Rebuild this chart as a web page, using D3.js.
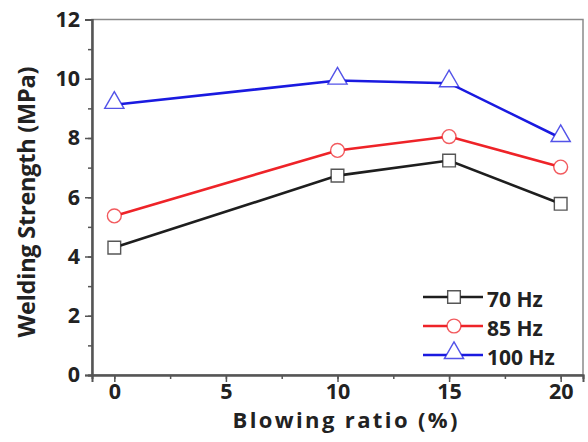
<!DOCTYPE html>
<html><head><meta charset="utf-8">
<script src="https://cdn.jsdelivr.net/npm/d3@7"></script>
<style>body{margin:0;background:#fff}svg{display:block}text{font-family:"Open Sans","DejaVu Sans",sans-serif;font-weight:700;fill:#222}</style>
</head><body>
<script>
const xValues = [0, 10, 15, 20];
const seriesNames = ["70 Hz", "85 Hz", "100 Hz"];
const values70 = [4.3, 6.73, 7.24, 5.78];
const values85 = [5.37, 7.58, 8.05, 7.02];
const values100 = [9.12, 9.94, 9.85, 8.0];
const xTicks = [0, 5, 10, 15, 20];
const yTicks = [0, 2, 4, 6, 8, 10, 12];
const colors = ["#1e1e1e", "#ee2328", "#1a1ae0"];
const symbols = [d3.symbolSquare, d3.symbolCircle, d3.symbolTriangle];
const symSizes = [160, 150, 160];

const W = 588, H = 442;
const m = {l: 92, r: 5, t: 19.5, b: 67};
const svg = d3.select("body").append("svg").attr("width", W).attr("height", H);
const x = d3.scaleLinear().domain([-1, 21]).range([m.l, W - m.r]);
const y = d3.scaleLinear().domain([0, 12]).range([H - m.b, m.t]);

// frame
svg.append("rect").attr("x", m.l).attr("y", m.t).attr("width", W - m.r - m.l).attr("height", H - m.b - m.t)
  .attr("fill", "none").attr("stroke", "#8a8a8a").attr("stroke-width", 1.5);

// ticks
const gx = svg.append("g").attr("transform", `translate(0,${H - m.b})`);
gx.call(d3.axisBottom(x).tickValues(d3.range(0, 21, 2.5)).tickSize(4).tickFormat(""));
const gx2 = svg.append("g").attr("transform", `translate(0,${H - m.b})`);
gx2.call(d3.axisBottom(x).tickValues(xTicks).tickSize(7).tickPadding(2).tickFormat(d3.format("d")));
const gy = svg.append("g").attr("transform", `translate(${m.l},0)`);
gy.call(d3.axisLeft(y).tickValues(d3.range(0, 12.1, 1)).tickSize(4).tickFormat(""));
const gy2 = svg.append("g").attr("transform", `translate(${m.l},0)`);
gy2.call(d3.axisLeft(y).tickValues(yTicks).tickSize(7).tickPadding(5).tickFormat(d3.format("d")));
svg.selectAll(".domain").attr("stroke", "#555").attr("stroke-width", 2);
svg.selectAll(".tick line").attr("stroke", "#555").attr("stroke-width", 1.5);
svg.selectAll(".tick text").attr("font-size", 21.5).attr("fill", "#222")
  .style("font-family", '"Open Sans","DejaVu Sans",sans-serif').style("font-weight", 700);

// axis titles
svg.append("text").attr("x", 345).attr("y", 428).attr("text-anchor", "middle")
  .attr("font-size", 22).attr("textLength", 225).attr("lengthAdjust", "spacing").text("Blowing ratio (%)");
svg.append("text").attr("transform", `translate(35,202) rotate(-90)`).attr("text-anchor", "middle")
  .attr("font-size", 23.5).attr("textLength", 271).attr("lengthAdjust", "spacing").text("Welding Strength (MPa)");

const data = [values70, values85, values100];
const line = d3.line().x((d, i) => x(xValues[i])).y(d => y(d));
data.forEach((vals, s) => {
  svg.append("path").datum(vals).attr("d", line).attr("fill", "none")
    .attr("stroke", colors[s]).attr("stroke-width", 2.6);
  svg.selectAll(null).data(vals).enter().append("path")
    .attr("transform", (d, i) => `translate(${x(xValues[i])},${y(d) + (s === 2 ? -2 : 0)})`)
    .attr("d", d3.symbol().type(symbols[s]).size(symSizes[s]))
    .attr("fill", "#fff").attr("stroke", colors[s]).attr("stroke-width", 1.4).attr("stroke-opacity", 0.75);
});

// legend
const lg = svg.append("g");
seriesNames.forEach((name, s) => {
  const yy = 297 + s * 29;
  lg.append("line").attr("x1", 423).attr("x2", 483).attr("y1", yy).attr("y2", yy)
    .attr("stroke", colors[s]).attr("stroke-width", 2.6);
  lg.append("path").attr("transform", `translate(454,${yy + (s === 2 ? -2 : 0)})`)
    .attr("d", d3.symbol().type(symbols[s]).size(symSizes[s]))
    .attr("fill", "#fff").attr("stroke", colors[s]).attr("stroke-width", 1.4).attr("stroke-opacity", 0.75);
  lg.append("text").attr("x", 487).attr("y", yy + 10).attr("font-size", 21).text(name);
});
</script>
</body></html>
